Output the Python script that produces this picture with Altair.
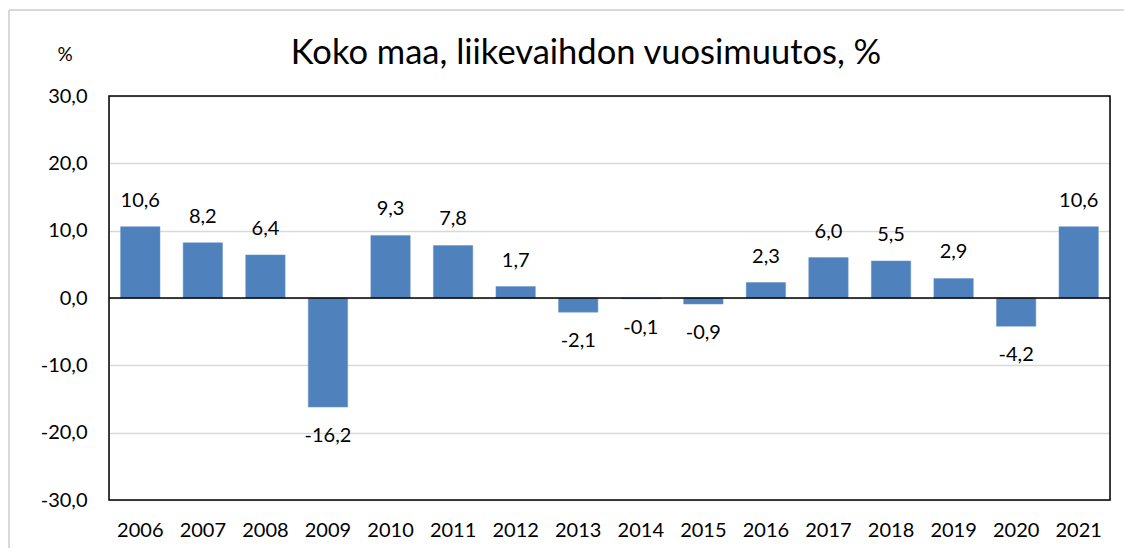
import altair as alt
import pandas as pd

years = ["2006", "2007", "2008", "2009", "2010", "2011", "2012", "2013",
         "2014", "2015", "2016", "2017", "2018", "2019", "2020", "2021"]
values = [10.6, 8.2, 6.4, -16.2, 9.3, 7.8, 1.7, -2.1,
          -0.1, -0.9, 2.3, 6.0, 5.5, 2.9, -4.2, 10.6]
y_ticks = [-30, -20, -10, 0, 10, 20, 30]
title_text = "Koko maa, liikevaihdon vuosimuutos, %"
unit_text = "%"

df = pd.DataFrame({"year": years, "value": values})
df["label"] = df["value"].map(lambda v: f"{v:.1f}".replace(".", ","))

FONT = "Lato"
W, H = 1001, 404

x_enc = alt.X("year:N", sort=years, title=None,
              scale=alt.Scale(paddingInner=0.37, paddingOuter=0.185),
              axis=alt.Axis(labelAngle=0, labelFontSize=20, labelFont=FONT,
                            labelColor="#000000", ticks=False, domain=False,
                            labelPadding=20))
y_scale = alt.Scale(domain=[-30, 30], nice=False)

base = alt.Chart(df)

bars = base.mark_bar(color="#4F81BD", stroke="#6A96CB", strokeWidth=0.5).encode(
    x=x_enc,
    y=alt.Y("value:Q", scale=y_scale, title=None,
            axis=alt.Axis(values=y_ticks, labelFontSize=20, labelFont=FONT,
                          labelColor="#000000", ticks=False, domain=False,
                          grid=True, gridColor="#D9D9D9", gridWidth=1.5,
                          labelPadding=22,
                          labelExpr="replace(replace(format(datum.value, '.1f'), '.', ','), '\u2212', '-')")),
)

pos_labels = base.transform_filter("datum.value >= 0").mark_text(
    font=FONT, fontSize=20, color="#000000", baseline="middle", dy=-26
).encode(x=alt.X("year:N", sort=years), y=alt.Y("value:Q", scale=y_scale), text="label:N")

neg_labels = base.transform_filter("datum.value < 0").mark_text(
    font=FONT, fontSize=20, color="#000000", baseline="middle", dy=29
).encode(x=alt.X("year:N", sort=years), y=alt.Y("value:Q", scale=y_scale), text="label:N")

zero = alt.Chart(pd.DataFrame({"z": [0]})).mark_rule(color="#000000", strokeWidth=1.5).encode(
    y=alt.Y("z:Q", scale=y_scale)
)

title = alt.Chart(pd.DataFrame({"t": [title_text]})).mark_text(
    font=FONT, fontSize=34.5, color="#000000", align="center", baseline="middle"
).encode(x=alt.value(477), y=alt.value(-42), text="t:N")

unit = alt.Chart(pd.DataFrame({"t": [unit_text]})).mark_text(
    font=FONT, fontSize=19, color="#000000", align="center", baseline="middle"
).encode(x=alt.value(-44), y=alt.value(-41), text="t:N")

frame_df = pd.DataFrame({"a": [0]})
outer_top = alt.Chart(frame_df).mark_rule(color="#D9D9D9", strokeWidth=2).encode(
    x=alt.value(-100), x2=alt.value(1060), y=alt.value(-86))
outer_left = alt.Chart(frame_df).mark_rule(color="#D9D9D9", strokeWidth=2).encode(
    x=alt.value(-100), y=alt.value(-86), y2=alt.value(500))

plot_frame = alt.Chart(frame_df).mark_rect(
    fillOpacity=0, fill="#FFFFFF", stroke="#000000", strokeWidth=1.5
).encode(x=alt.value(0), x2=alt.value(W), y=alt.value(0), y2=alt.value(H))

chart = alt.layer(outer_top, outer_left, bars, zero, pos_labels, neg_labels, title, unit,
                  plot_frame).properties(
    width=W, height=H,
    autosize=alt.AutoSizeParams(type="none"),
    padding={"left": 101, "top": 88, "right": 14, "bottom": 48},
).configure_view(strokeWidth=0).configure(background="#FFFFFF")

chart.save("out.html", embed_options={"renderer": "svg", "actions": False})
